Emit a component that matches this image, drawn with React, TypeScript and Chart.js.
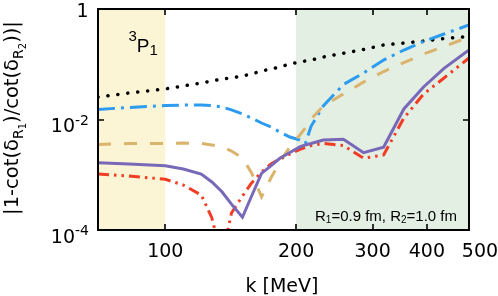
import React, { useEffect, useRef } from "react";
import { Chart, registerables } from "chart.js";

Chart.register(...registerables);

// momentum grid k [MeV]
const K = [70, 82.5, 100, 110, 121, 128, 135, 142, 150.5, 158, 166.5, 175, 183.5, 193.5, 204, 210, 216.5, 231, 257, 286, 318, 354, 393, 438, 500];

const BLACK_DOTTED = [0.0255, 0.0302, 0.0357, 0.0404, 0.0458, 0.0497, 0.0541, 0.0564, 0.0613, 0.0666, 0.0755, 0.082, 0.0892, 0.101, 0.11, 0.1145, 0.119, 0.135, 0.158, 0.185, 0.223, 0.242, 0.263, 0.292, 0.318];
const BLUE_DASHDOT = [0.0152, 0.0165, 0.0179, 0.0183, 0.0183, 0.0179, 0.0168, 0.0149, 0.0126, 0.0106, 0.00864, 0.00731, 0.00594, 0.00482, 0.00426, 0.00368, 0.00753, 0.0176, 0.043, 0.0695, 0.119, 0.181, 0.258, 0.353, 0.513];
const TAN_DASHED = [0.00353, 0.00368, 0.00368, 0.00376, 0.00368, 0.00346, 0.00318, 0.00269, 0.00201, 0.00108, 0.000396, 0.000873, 0.0017, 0.00318, 0.00524, 0.00702, 0.0102, 0.0176, 0.029, 0.0477, 0.0739, 0.107, 0.153, 0.21, 0.311];
const PURPLE_SOLID = [0.00165, 0.00157, 0.00146, 0.00127, 0.00103, 0.00074, 0.000493, 0.000294, 0.00017, 0.000412, 0.00106, 0.00145, 0.00199, 0.00253, 0.00318, 0.00346, 0.00368, 0.00426, 0.00438, 0.00251, 0.00314, 0.0155, 0.0388, 0.0845, 0.181];
const RED_DASHDOTDOT = [0.00103, 0.00095, 0.000827, 0.000652, 0.00043, 0.000165, 0.000031, 0.000203, 0.000412, 0.000709, 0.00112, 0.00157, 0.00193, 0.00237, 0.00289, 0.00311, 0.00338, 0.00368, 0.00338, 0.00199, 0.00228, 0.0106, 0.0289, 0.0564, 0.13];

const X_MIN = 70;
const X_MAX = 500;
const Y_MIN = 1e-4;
const Y_MAX = 1;
const X_TICK_LABELS = [100, 200, 300, 400, 500];
const X_TICK_MARKS = [100, 200, 300, 400];
const Y_TICK_VALUES = [1, 1e-2, 1e-4];
const Y_TICK_EXPONENTS = [0, -2, -4];
const YELLOW_BAND = [70, 100];
const GREEN_BAND = [200, 500];

const DEJAVU = '"DejaVu Sans"';
const ARIAL = '"Liberation Sans"';

type Run = { t: string; size: number; dy: number; family: string };

function drawRuns(ctx: CanvasRenderingContext2D, runs: Run[], x: number, y: number, align: "left" | "center" | "right") {
  ctx.textAlign = "left";
  ctx.textBaseline = "alphabetic";
  const widths = runs.map((r) => {
    ctx.font = `${r.size}px ${r.family}`;
    return ctx.measureText(r.t).width;
  });
  const total = widths.reduce((a, b) => a + b, 0);
  let cx = align === "left" ? x : align === "center" ? x - total / 2 : x - total;
  runs.forEach((r, i) => {
    ctx.font = `${r.size}px ${r.family}`;
    ctx.fillText(r.t, cx, y + r.dy);
    cx += widths[i];
  });
}

export default function App() {
  const ref = useRef<HTMLCanvasElement>(null);

  useEffect(() => {
    const canvas = ref.current;
    if (!canvas) return;
    const mk = (vals: number[]) => K.map((k, i) => ({ x: k, y: vals[i] }));

    const decor = {
      id: "decor",
      beforeDatasetsDraw(chart: any) {
        const { ctx, chartArea } = chart;
        const xs = chart.scales.x;
        const { top, bottom } = chartArea;
        ctx.save();
        ctx.fillStyle = "#fcf5d5";
        const y0 = xs.getPixelForValue(YELLOW_BAND[0]);
        const y1 = xs.getPixelForValue(YELLOW_BAND[1]);
        ctx.fillRect(y0, top, y1 - y0, bottom - top);
        ctx.fillStyle = "#e3efe3";
        const g0 = xs.getPixelForValue(GREEN_BAND[0]);
        const g1 = xs.getPixelForValue(GREEN_BAND[1]);
        ctx.fillRect(g0, top, g1 - g0, bottom - top);
        ctx.restore();
      },
      afterDatasetsDraw(chart: any) {
        const { ctx, chartArea } = chart;
        const xs = chart.scales.x;
        const ys = chart.scales.y;
        const { left, right, top, bottom } = chartArea;
        ctx.save();
        // frame
        ctx.strokeStyle = "#000";
        ctx.lineWidth = 2;
        ctx.setLineDash([]);
        ctx.strokeRect(left, top, right - left, bottom - top);
        // ticks
        ctx.lineWidth = 1.6;
        X_TICK_MARKS.forEach((v) => {
          const px = Math.round(xs.getPixelForValue(v));
          ctx.beginPath();
          ctx.moveTo(px, top);
          ctx.lineTo(px, top + 6);
          ctx.moveTo(px, bottom);
          ctx.lineTo(px, bottom - 6);
          ctx.stroke();
        });
        Y_TICK_VALUES.forEach((v) => {
          const py = Math.round(ys.getPixelForValue(v));
          ctx.beginPath();
          ctx.moveTo(left, py);
          ctx.lineTo(left + 6, py);
          ctx.moveTo(right, py);
          ctx.lineTo(right - 6, py);
          ctx.stroke();
        });
        ctx.fillStyle = "#000";
        // x tick labels
        X_TICK_LABELS.forEach((v) => {
          let px = xs.getPixelForValue(v);
          if (v === X_MAX) px += 11;
          drawRuns(ctx, [{ t: String(v), size: 19, dy: 0, family: DEJAVU }], px, 256.5, "center");
        });
        // y tick labels
        Y_TICK_VALUES.forEach((v, i) => {
          const py = ys.getPixelForValue(v);
          const e = Y_TICK_EXPONENTS[i];
          if (e === 0) {
            drawRuns(ctx, [{ t: "1", size: 19, dy: 0, family: DEJAVU }], 88.5, py + 8, "right");
          } else {
            drawRuns(
              ctx,
              [
                { t: "10", size: 19, dy: 12.5, family: DEJAVU },
                { t: "-" + String(-e), size: 14, dy: 5, family: DEJAVU },
              ],
              89,
              py,
              "right"
            );
          }
        });
        // x title
        drawRuns(ctx, [{ t: "k [MeV]", size: 19, dy: 0, family: DEJAVU }], 282, 291.5, "center");
        // y title
        ctx.save();
        ctx.translate(18, 118);
        ctx.rotate(-Math.PI / 2);
        drawRuns(
          ctx,
          [
            { t: "|1-cot(δ", size: 19.5, dy: 0, family: DEJAVU },
            { t: "R", size: 14, dy: 4.5, family: DEJAVU },
            { t: "1", size: 10, dy: 7.5, family: DEJAVU },
            { t: ")/cot(δ", size: 19.5, dy: 0, family: DEJAVU },
            { t: "R", size: 14, dy: 4.5, family: DEJAVU },
            { t: "2", size: 10, dy: 7.5, family: DEJAVU },
            { t: "))|", size: 19.5, dy: 0, family: DEJAVU },
          ],
          0,
          0,
          "center"
        );
        ctx.restore();
        // 3P1 label
        drawRuns(
          ctx,
          [
            { t: "3", size: 15, dy: -11, family: ARIAL },
            { t: "P", size: 19, dy: 0, family: ARIAL },
            { t: "1", size: 15, dy: 3.5, family: ARIAL },
          ],
          128.5,
          51.7,
          "left"
        );
        // inset text
        drawRuns(
          ctx,
          [
            { t: "R", size: 15, dy: 0, family: ARIAL },
            { t: "1", size: 10, dy: 1.5, family: ARIAL },
            { t: "=0.9 fm, R", size: 15, dy: 0, family: ARIAL },
            { t: "2", size: 10, dy: 1.5, family: ARIAL },
            { t: "=1.0 fm", size: 15, dy: 0, family: ARIAL },
          ],
          315,
          221,
          "left"
        );
        ctx.restore();
      },
    };

    const chart = new Chart(canvas, {
      type: "line",
      data: {
        datasets: [
          {
            label: "purple",
            data: mk(PURPLE_SOLID),
            borderColor: "#7868b8",
            borderWidth: 3,
            borderJoinStyle: "miter",
          },
          {
            label: "red",
            data: mk(RED_DASHDOTDOT),
            borderColor: "#f23c24",
            borderWidth: 3,
            borderDash: [11, 5, 2.5, 5, 2.5, 5],
          },
          {
            label: "tan",
            data: mk(TAN_DASHED),
            borderColor: "#dab36c",
            borderWidth: 3,
            borderDash: [13, 13],
          },
          {
            label: "blue",
            data: mk(BLUE_DASHDOT),
            borderColor: "#2c9bf0",
            borderWidth: 3,
            borderDash: [17, 6, 3, 6],
          },
          {
            label: "black",
            data: mk(BLACK_DOTTED),
            borderColor: "#000000",
            borderWidth: 3.5,
            borderDash: [0.1, 9.9],
            borderCapStyle: "round",
          },
        ],
      } as any,
      options: {
        responsive: false,
        animation: false,
        devicePixelRatio: 1,
        layout: { padding: { left: 98, top: 9, right: 29, bottom: 66 } },
        plugins: { legend: { display: false }, tooltip: { enabled: false } },
        elements: { point: { radius: 0 }, line: { tension: 0, fill: false } },
        scales: {
          x: { type: "logarithmic", min: X_MIN, max: X_MAX, display: false },
          y: { type: "logarithmic", min: Y_MIN, max: Y_MAX, display: false },
        },
      } as any,
      plugins: [decor],
    });
    return () => chart.destroy();
  }, []);

  return (
    <div style={{ position: "absolute", left: 0, top: 0, width: 498, height: 296, background: "#fff" }}>
      <canvas ref={ref} width={498} height={296} style={{ display: "block", width: 498, height: 296 }} />
    </div>
  );
}
